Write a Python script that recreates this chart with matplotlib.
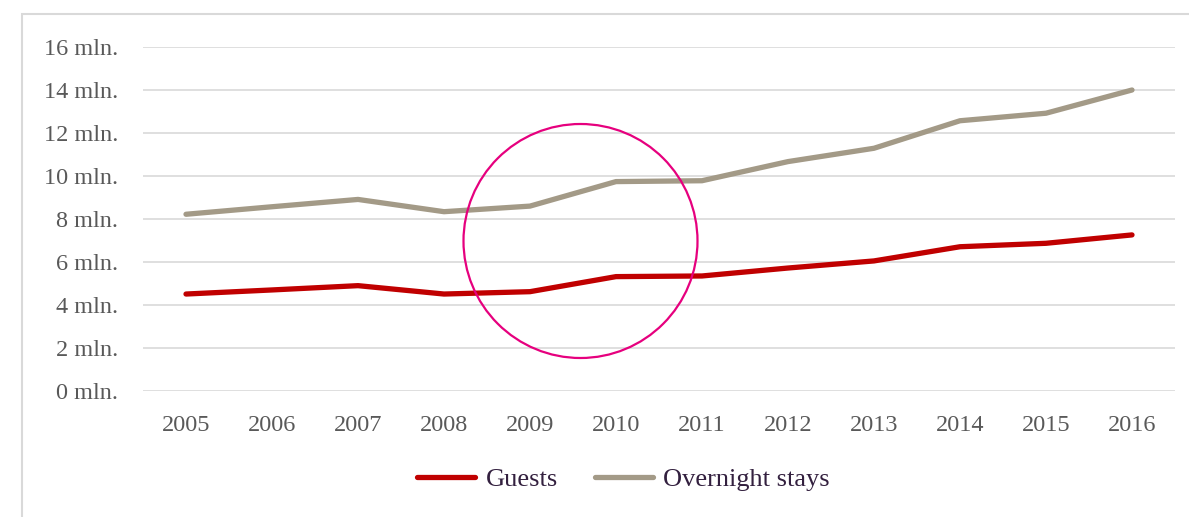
import matplotlib
matplotlib.use("Agg")
import matplotlib.pyplot as plt
from matplotlib.patches import Circle, Rectangle
from matplotlib.ticker import FuncFormatter

years = ["2005", "2006", "2007", "2008", "2009", "2010",
         "2011", "2012", "2013", "2014", "2015", "2016"]
guests = [4.51, 4.70, 4.90, 4.51, 4.62, 5.32, 5.35, 5.72, 6.05, 6.71, 6.87, 7.26]
overnight = [8.22, 8.57, 8.91, 8.34, 8.60, 9.74, 9.78, 10.67, 11.29, 12.57, 12.92, 14.00]
series_names = ["Guests", "Overnight stays"]
y_ticks = [0, 2, 4, 6, 8, 10, 12, 14, 16]

W, H = 1189, 517
fig = plt.figure(figsize=(W / 100, H / 100), dpi=100)
fig.patch.set_facecolor("white")

# outer frame
fig.add_artist(Rectangle((22 / W, -0.1), 1.2, 1 - 14 / H + 0.1,
                         transform=fig.transFigure, fill=False,
                         edgecolor="#D9D9D9", linewidth=1.5))

ax = fig.add_axes([143 / W, (H - 391) / H, (1175 - 143) / W, (391 - 47) / H])
x = list(range(len(years)))
ax.plot(x, guests, color="#C00000", lw=3.8, solid_capstyle="round",
        solid_joinstyle="round", label=series_names[0], zorder=3)
ax.plot(x, overnight, color="#A39A87", lw=3.8, solid_capstyle="round",
        solid_joinstyle="round", label=series_names[1], zorder=3)

ax.set_xlim(-0.5, len(years) - 0.5)
ax.set_ylim(0, 16)
ax.set_yticks(y_ticks)
ax.yaxis.set_major_formatter(FuncFormatter(lambda v, p: f"{int(v)} mln."))
ax.set_xticks(x)
ax.set_xticklabels(years)
ax.grid(axis="y", color="#D9D9D9", lw=1.2)
ax.set_axisbelow(True)
for s in ax.spines.values():
    s.set_visible(False)
ax.tick_params(axis="y", length=0, pad=18, labelsize=17.5, labelcolor="#595959")
ax.tick_params(axis="x", length=0, pad=17, labelsize=17.5, labelcolor="#595959")
for lab in ax.get_xticklabels() + ax.get_yticklabels():
    lab.set_family("Liberation Serif")

leg = fig.legend(loc="center", bbox_to_anchor=(623.5 / W, (H - 479) / H),
                 ncol=2, frameon=False, handlelength=2.2, handletextpad=0.4,
                 columnspacing=1.4,
                 prop={"family": "Liberation Serif", "size": 19})
for t in leg.get_texts():
    t.set_color("#33203F")

# highlight circle
fig.add_artist(Circle((580.5 / 100, (H - 241) / 100), 1.17,
                      transform=fig.dpi_scale_trans, fill=False,
                      edgecolor="#E6007E", linewidth=1.6, zorder=5))

fig.savefig("out.png", dpi=100)
